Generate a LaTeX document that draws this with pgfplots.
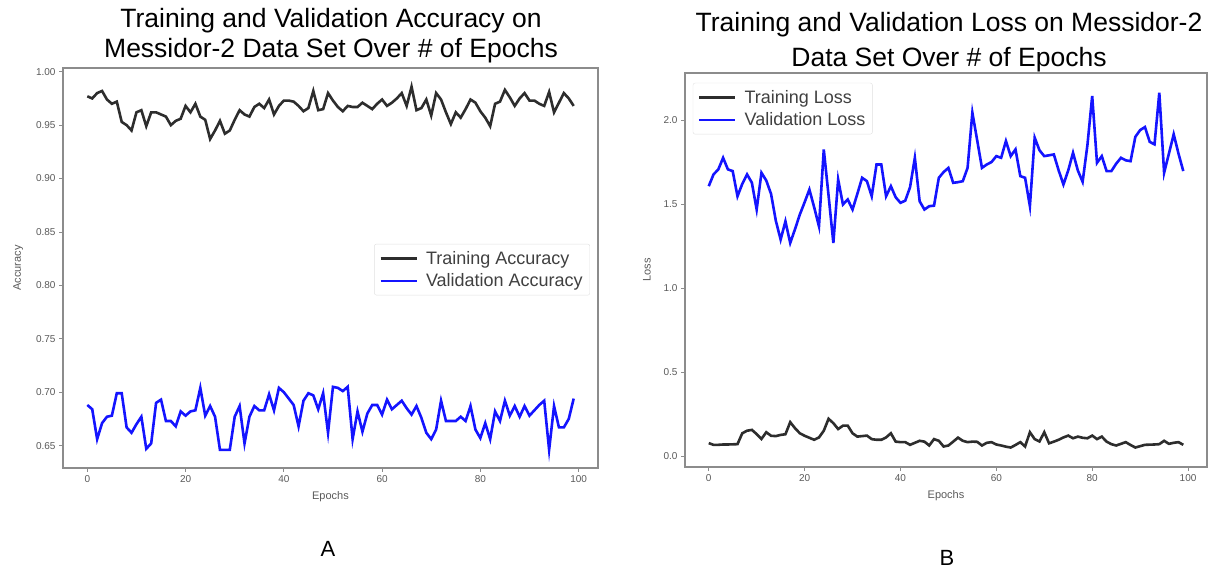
\documentclass[border=0pt]{standalone}
\usepackage{fontspec}
\setmainfont{Liberation Sans}
\usepackage{pgfplots}
\pgfplotsset{compat=1.18}
\usepackage{pgfplotstable}

\pgfplotstableread{
ep tacc vacc tloss vloss
0 0.977 0.688 0.076 1.606
1 0.975 0.684 0.066 1.676
2 0.980 0.656 0.066 1.706
3 0.982 0.671 0.068 1.775
4 0.974 0.677 0.068 1.706
5 0.970 0.678 0.069 1.696
6 0.972 0.699 0.070 1.546
7 0.953 0.699 0.135 1.620
8 0.950 0.667 0.150 1.676
9 0.945 0.662 0.155 1.627
10 0.962 0.670 0.130 1.467
11 0.964 0.677 0.101 1.686
12 0.949 0.647 0.141 1.640
13 0.962 0.652 0.120 1.560
14 0.962 0.690 0.118 1.400
15 0.960 0.693 0.125 1.288
16 0.958 0.673 0.129 1.397
17 0.950 0.673 0.201 1.268
18 0.954 0.668 0.165 1.350
19 0.956 0.682 0.135 1.437
20 0.968 0.678 0.120 1.510
21 0.962 0.682 0.108 1.586
22 0.970 0.683 0.096 1.480
23 0.958 0.704 0.110 1.367
24 0.955 0.678 0.150 1.825
25 0.937 0.687 0.221 1.550
26 0.945 0.677 0.195 1.268
27 0.954 0.646 0.160 1.646
28 0.942 0.646 0.180 1.497
29 0.945 0.646 0.180 1.527
30 0.955 0.677 0.135 1.467
31 0.964 0.687 0.115 1.560
32 0.960 0.652 0.118 1.656
33 0.958 0.677 0.121 1.636
34 0.967 0.687 0.100 1.546
35 0.970 0.683 0.096 1.735
36 0.966 0.683 0.096 1.735
37 0.974 0.698 0.110 1.546
38 0.960 0.683 0.135 1.606
39 0.968 0.704 0.085 1.540
40 0.973 0.700 0.082 1.507
41 0.973 0.694 0.082 1.520
42 0.972 0.688 0.066 1.600
43 0.968 0.668 0.078 1.775
44 0.963 0.692 0.090 1.516
45 0.966 0.699 0.085 1.467
46 0.982 0.697 0.062 1.487
47 0.964 0.684 0.100 1.490
48 0.965 0.699 0.090 1.656
49 0.980 0.662 0.056 1.690
50 0.973 0.705 0.062 1.715
51 0.967 0.704 0.085 1.626
52 0.963 0.701 0.109 1.630
53 0.968 0.705 0.090 1.636
54 0.967 0.656 0.082 1.715
55 0.967 0.682 0.085 2.044
56 0.971 0.663 0.084 1.880
57 0.968 0.680 0.062 1.715
58 0.965 0.688 0.078 1.735
59 0.970 0.688 0.082 1.750
60 0.974 0.679 0.068 1.785
61 0.968 0.693 0.062 1.775
62 0.971 0.684 0.055 1.875
63 0.975 0.688 0.050 1.785
64 0.980 0.692 0.065 1.825
65 0.968 0.685 0.082 1.666
66 0.986 0.679 0.056 1.656
67 0.964 0.687 0.141 1.487
68 0.966 0.676 0.100 1.895
69 0.974 0.662 0.086 1.820
70 0.959 0.656 0.141 1.785
71 0.980 0.665 0.075 1.790
72 0.974 0.692 0.085 1.795
73 0.962 0.673 0.096 1.700
74 0.951 0.673 0.110 1.616
75 0.962 0.673 0.121 1.700
76 0.957 0.677 0.105 1.805
77 0.965 0.673 0.115 1.700
78 0.974 0.687 0.108 1.632
79 0.971 0.665 0.105 1.850
80 0.963 0.657 0.121 2.143
81 0.957 0.671 0.100 1.745
82 0.949 0.656 0.115 1.785
83 0.970 0.682 0.085 1.696
84 0.972 0.673 0.070 1.696
85 0.983 0.692 0.062 1.740
86 0.976 0.678 0.072 1.775
87 0.968 0.687 0.082 1.760
88 0.975 0.677 0.065 1.755
89 0.980 0.687 0.050 1.900
90 0.973 0.678 0.058 1.940
91 0.973 0.683 0.066 1.958
92 0.970 0.688 0.067 1.870
93 0.968 0.692 0.068 1.855
94 0.981 0.646 0.070 2.163
95 0.962 0.687 0.090 1.686
96 0.971 0.667 0.072 1.800
97 0.980 0.667 0.078 1.915
98 0.975 0.675 0.082 1.800
99 0.968 0.694 0.066 1.696
}\data

\definecolor{tline}{RGB}{45,45,45}
\definecolor{vline}{RGB}{20,20,255}

\begin{document}
\begin{tikzpicture}
\useasboundingbox (0pt,0pt) rectangle (1210pt,573pt);
\pgfplotsset{
  common/.style={
    scale only axis, anchor=south west,
    xmin=-4.95, xmax=103.95,
    xtick={0,20,...,100},
    axis line style={black!45, line width=1.2pt},
    tick align=outside, major tick length=4pt,
    tick pos=left,
    major tick style={black!45, line width=0.8pt},
    ticklabel style={font=\fontsize{10}{12}\selectfont, text=black!65},
    /pgf/number format/assume math mode=true,
    xlabel style={font=\fontsize{11}{13}\selectfont, text=black!65, yshift=-2pt},
    ylabel style={font=\fontsize{11}{13}\selectfont, text=black!65, yshift=6pt},
    legend style={font=\fontsize{18}{21}\selectfont, text=black!75, draw=black!12, rounded corners=2pt, fill=white, inner xsep=5pt, inner ysep=5pt, row sep=4pt, column sep=6pt},
    legend cell align=left,
    legend image code/.code={\draw[##1] (0pt,0pt) -- (36pt,0pt);},
  }
}
\begin{axis}[common, at={(63pt,105pt)}, width=535pt, height=400pt,
  ymin=0.629, ymax=1.0035,
  ytick={0.65,0.70,...,1.0},
  yticklabel style={/pgf/number format/.cd, fixed, fixed zerofill, precision=2},
  xlabel={Epochs}, ylabel={Accuracy},
  legend style={at={(0.985,0.496)}, anchor=east}]
\addplot[tline, line width=2.6pt] table[x=ep, y=tacc] {\data};
\addlegendentry{Training Accuracy}
\addplot[vline, line width=2.6pt] table[x=ep, y=vacc] {\data};
\addlegendentry{Validation Accuracy}
\end{axis}

\begin{axis}[common, at={(685pt,106pt)}, width=522pt, height=394pt,
  ymin=-0.066, ymax=2.28,
  ytick={0,0.5,...,2.0},
  yticklabel style={/pgf/number format/.cd, fixed, fixed zerofill, precision=1},
  xlabel={Epochs}, ylabel={Loss},
  legend style={at={(0.015,0.975)}, anchor=north west}]
\addplot[tline, line width=2.6pt] table[x=ep, y=tloss] {\data};
\addlegendentry{Training Loss}
\addplot[vline, line width=2.6pt] table[x=ep, y=vloss] {\data};
\addlegendentry{Validation Loss}
\end{axis}

\node[font=\fontsize{26.5}{30}\selectfont] at (331pt,552pt) {Training and Validation Accuracy on};
\node[font=\fontsize{26.5}{30}\selectfont] at (331pt,522pt) {Messidor-2 Data Set Over \# of Epochs};
\node[font=\fontsize{26.5}{30}\selectfont] at (949pt,548pt) {Training and Validation Loss on Messidor-2};
\node[font=\fontsize{26.5}{30}\selectfont] at (949pt,513pt) {Data Set Over \# of Epochs};
\node[font=\fontsize{22}{26}\selectfont] at (328pt,24pt) {A};
\node[font=\fontsize{22}{26}\selectfont] at (947pt,15pt) {B};
\end{tikzpicture}
\end{document}
